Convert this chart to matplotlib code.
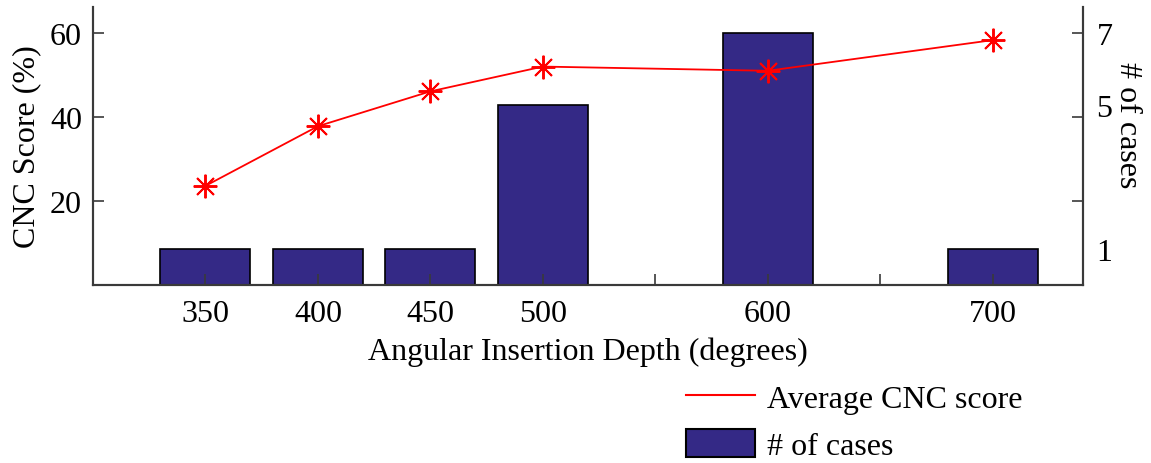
import matplotlib.pyplot as plt
from matplotlib.lines import Line2D
from matplotlib.patches import Patch

plt.rcParams['font.family'] = ['Liberation Serif', 'DejaVu Serif']

# datos
depths = [350, 400, 450, 500, 600, 700]
cnc_score = [23.6, 37.8, 46.1, 52.0, 51.0, 58.3]
n_cases = [1, 1, 1, 5, 7, 1]
xtick_pos = [350, 400, 450, 500, 550, 600, 650, 700]
xtick_labels = ['350', '400', '450', '500', '', '600', '', '700']

bar_color = '#342986'
spine_color = '#3a3a3a'

fig = plt.figure(figsize=(11.51, 4.64), dpi=100)
ax = fig.add_axes([0.0808, 0.3836, 0.8598, 0.5993])
ax2 = ax.twinx()

# barras en el eje derecho, linea encima
ax2.bar(depths, n_cases, width=40, color=bar_color, edgecolor='black', linewidth=1.2)
ax.set_zorder(ax2.get_zorder() + 1)
ax.patch.set_visible(False)
ax.plot(depths, cnc_score, color='red', linewidth=1.3,
        marker=(8, 2, 0), markersize=17, markeredgewidth=1.4)

ax.set_xlim(300, 740)
ax.set_ylim(0, 66.2)
ax2.set_ylim(0, 7.72)

ax.set_xticks(xtick_pos)
ax.set_xticklabels(xtick_labels)
ax.set_yticks([20, 40, 60])
ax.tick_params(axis='both', direction='in', length=8, width=1.2, color=spine_color,
               labelsize=23, pad=8)
ax.tick_params(axis='y', right=True, labelright=False)
ax.tick_params(axis='x', top=False, pad=10)

ax2.set_yticks([1, 5, 7])
ax2.tick_params(axis='y', length=0, labelsize=23, pad=10)

for a in (ax, ax2):
    for side in ['left', 'right', 'bottom']:
        a.spines[side].set_color(spine_color)
        a.spines[side].set_linewidth(1.5)
    a.spines['top'].set_visible(False)

ax.set_ylabel('CNC Score (%)', fontsize=23, labelpad=6)
ax.set_xlabel('Angular Insertion Depth (degrees)', fontsize=23, labelpad=6)
ax2.set_ylabel('# of cases', fontsize=23, rotation=270)
ax2.yaxis.set_label_coords(1.06, 0.58)

handles = [Line2D([0], [0], color='red', linewidth=1.5),
           Patch(facecolor=bar_color, edgecolor='black', linewidth=1.5)]
fig.legend(handles, ['Average CNC score', '# of cases'], loc='lower left',
           bbox_to_anchor=(686 / 1151, 2 / 464), frameon=False, fontsize=23,
           borderpad=0, borderaxespad=0, handlelength=2.15, handleheight=1.0,
           handletextpad=0.4, labelspacing=0.45)

fig.savefig('out.png', dpi=100)
